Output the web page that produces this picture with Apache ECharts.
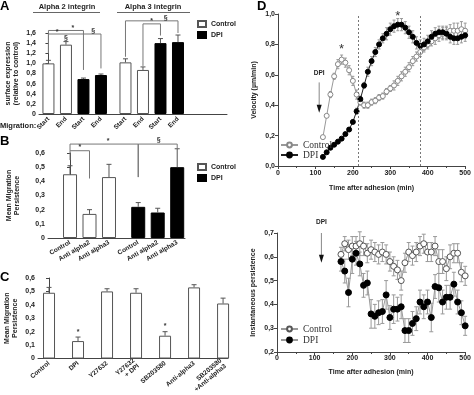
<!DOCTYPE html>
<html><head><meta charset="utf-8">
<script src="https://cdn.jsdelivr.net/npm/echarts@6/dist/echarts.min.js"></script>
<style>html,body{margin:0;padding:0;background:#fff}#c{width:474px;height:395px}</style>
</head><body><div id="c"></div>
<script>
// ---------- Panel A ----------
const aLabels = ['Start','End','Start','End','Start','End','Start','End'];
const aControl = [1.00, 1.37, null, null, 1.02, 0.87, null, null];
const aDPI     = [null, null, 0.69, 0.77, null, null, 1.40, 1.42];
const aErrors  = [0.06, 0.06, 0.02, 0.02, 0.07, 0.06, 0.09, 0.14];
// ---------- Panel B ----------
const bLabels = ['Control','Anti alpha2','Anti alpha3','Control','Anti alpha2','Anti alpha3'];
const bControl = [0.45, 0.17, 0.43, null, null, null];
const bDPI     = [null, null, null, 0.22, 0.18, 0.50];
const bErrors  = [0.06, 0.03, 0.09, 0.03, 0.03, 0.13];
// ---------- Panel C ----------
const cLabels = ['Control','DPI','Y27632','Y27632\n+ DPI','SB203580','Anti-alpha3','SB203580\n+Anti-alpha3'];
const cValues = [0.49, 0.13, 0.50, 0.49, 0.17, 0.53, 0.41];
const cErrors = [0.04, 0.03, 0.02, 0.03, 0.03, 0.02, 0.04];
// ---------- Panel D (velocity) ----------
const vTime = [120,130,140,150,160,170,180,190,200,210,220,230,240,250,260,270,280,290,300,310,320,330,340,350,360,370,380,390,400,410,420,430,440,450,460,470,480,490,500];
const vControl = [0.19,0.33,0.47,0.59,0.67,0.70,0.68,0.63,0.56,0.47,0.42,0.40,0.40,0.42,0.43,0.45,0.46,0.49,0.51,0.53,0.56,0.59,0.62,0.65,0.69,0.72,0.75,0.78,0.80,0.82,0.84,0.86,0.87,0.88,0.89,0.89,0.89,0.90,0.89];
const vControlErr = [0.01,0.01,0.02,0.02,0.03,0.03,0.03,0.03,0.03,0.03,0.02,0.02,0.02,0.02,0.02,0.02,0.02,0.02,0.02,0.03,0.03,0.03,0.03,0.03,0.03,0.03,0.03,0.03,0.03,0.03,0.04,0.04,0.04,0.04,0.04,0.05,0.05,0.05,0.05];
const vDPI = [0.06,0.09,0.12,0.14,0.16,0.18,0.21,0.24,0.29,0.36,0.44,0.53,0.62,0.69,0.75,0.80,0.84,0.87,0.90,0.92,0.93,0.93,0.91,0.88,0.85,0.81,0.79,0.80,0.82,0.85,0.87,0.88,0.88,0.87,0.85,0.84,0.84,0.85,0.86];
const vDPIErr = [0.01,0.01,0.01,0.01,0.01,0.01,0.01,0.01,0.01,0.02,0.02,0.02,0.03,0.03,0.03,0.03,0.03,0.04,0.04,0.04,0.04,0.04,0.04,0.04,0.04,0.04,0.04,0.04,0.04,0.04,0.04,0.04,0.04,0.04,0.04,0.04,0.04,0.04,0.04];
// ---------- Panel D (persistence) ----------
const pTime = [170,180,190,200,210,220,230,240,250,260,270,280,290,300,310,320,330,340,350,360,370,380,390,400,410,420,430,440,450,460,470,480,490,500];
const pControl = [0.61,0.655,0.63,0.645,0.645,0.655,0.645,0.615,0.63,0.62,0.61,0.62,0.61,0.58,0.56,0.545,0.50,0.575,0.62,0.605,0.62,0.645,0.655,0.62,0.62,0.645,0.58,0.58,0.55,0.60,0.615,0.615,0.535,0.52];
const pControlErr = [0.03,0.03,0.04,0.04,0.04,0.05,0.04,0.04,0.04,0.04,0.04,0.04,0.04,0.04,0.04,0.04,0.04,0.04,0.04,0.04,0.04,0.04,0.04,0.04,0.04,0.04,0.05,0.05,0.05,0.05,0.04,0.04,0.04,0.04];
const pDPI = [0.58,0.54,0.45,0.59,0.615,0.57,0.48,0.49,0.36,0.35,0.365,0.37,0.44,0.345,0.38,0.38,0.39,0.29,0.29,0.32,0.34,0.41,0.39,0.41,0.345,0.475,0.47,0.41,0.43,0.43,0.485,0.41,0.365,0.31];
const pDPIErr = [0.04,0.05,0.06,0.06,0.05,0.05,0.05,0.05,0.06,0.05,0.05,0.05,0.06,0.05,0.06,0.05,0.05,0.05,0.05,0.05,0.05,0.05,0.05,0.05,0.06,0.05,0.06,0.05,0.05,0.05,0.05,0.05,0.05,0.04];

// ---------- layout helpers ----------
const SANS = 'Liberation Sans, Arial, sans-serif';
const SERIF = 'Liberation Serif, Times New Roman, serif';
const posA = i => i + (i >= 4 ? 0.4 : 0);
const posB = i => i + (i >= 3 ? 0.5 : 0);
const posC = i => i;
const fmt = (dec, plainZero) => v => (plainZero && Math.abs(v) < 1e-9) ? '0' : v.toFixed(dec).replace('.', ',');
const tickFont = {fontFamily: SANS, fontSize: 7, fontWeight: 'bold', color: '#222'};
const axisLine = {show: true, lineStyle: {color: '#444', width: 1}};

function barXAxis(grid, labels, posFn, min, max, rotate) {
  const vals = labels.map((_, i) => posFn(i));
  return {gridIndex: grid, type: 'value', min, max, axisLine, axisTick: {show: false}, splitLine: {show: false},
    axisLabel: {customValues: vals, rotate, margin: 4, ...tickFont, fontSize: 6.5, lineHeight: 7,
      formatter: v => { const k = vals.findIndex(p => Math.abs(p - v) < 1e-6); return k < 0 ? '' : labels[k]; }}};
}
function yAx(grid, min, max, interval, formatter, name, nameGap) {
  return {gridIndex: grid, type: 'value', min, max, interval, axisLine, splitLine: {show: false},
    axisTick: {show: true, length: 3, lineStyle: {color: '#444'}},
    axisLabel: {...tickFont, margin: 3, formatter},
    name, nameLocation: 'middle', nameGap,
    nameTextStyle: {fontFamily: SANS, fontSize: 7, fontWeight: 'bold', color: '#222', lineHeight: 8}};
}
function barSeries(name, xi, vals, posFn, style, extra) {
  return Object.assign({type: 'bar', name, xAxisIndex: xi, yAxisIndex: xi, barWidth: 12,
    data: vals.map((v, i) => v == null ? null : [posFn(i), v]).filter(d => d), itemStyle: style, z: 2}, extra || {});
}
function errSeries(xi, data, color, both, capW) {
  return {type: 'custom', xAxisIndex: xi, yAxisIndex: xi, silent: true, z: both ? 1 : 3, clip: false,
    encode: {x: 0, y: 1}, data,
    renderItem: (p, api) => {
      const x = api.value(0), v = api.value(1), e = api.value(2);
      const t = api.coord([x, v + e]); const b = both ? api.coord([x, v - e]) : api.coord([x, v]);
      const c = capW / 2, st = {stroke: color, lineWidth: 1};
      const ch = [{type: 'line', shape: {x1: t[0], y1: t[1], x2: b[0], y2: b[1]}, style: st},
                  {type: 'line', shape: {x1: t[0] - c, y1: t[1], x2: t[0] + c, y2: t[1]}, style: st}];
      if (both) ch.push({type: 'line', shape: {x1: b[0] - c, y1: b[1], x2: b[0] + c, y2: b[1]}, style: st});
      return {type: 'group', children: ch};
    }};
}
function bracketSeries(xi, list, posFn) {
  return {type: 'custom', xAxisIndex: xi, yAxisIndex: xi, silent: true, clip: false, z: 3,
    encode: {x: 0, y: 1}, data: list.map(b => [posFn(b.from), b.e1]),
    renderItem: (p, api) => {
      const b = list[p.dataIndex], x1 = posFn(b.from), x2 = posFn(b.to);
      const pts = [api.coord([x1, b.e1]), api.coord([x1, b.top]), api.coord([x2, b.top]), api.coord([x2, b.e2])];
      return {type: 'polyline', shape: {points: pts}, style: {stroke: '#777', lineWidth: 1, fill: null}};
    }};
}
function markSeries(xi, list, size, weight) {
  return {type: 'custom', xAxisIndex: xi, yAxisIndex: xi, silent: true, clip: false, z: 4,
    encode: {x: 0, y: 1}, data: list.map(m => [m.x, m.y]),
    renderItem: (p, api) => {
      const m = list[p.dataIndex], c = api.coord([m.x, m.y]);
      return {type: 'text', x: c[0], y: c[1], style: {text: m.t, fontFamily: SANS, fontSize: size, fontWeight: weight,
        fill: '#333', align: 'center', verticalAlign: 'middle'}};
    }};
}
function arrowSeries(xi, a) {
  return {type: 'custom', xAxisIndex: xi, yAxisIndex: xi, silent: true, clip: false, z: 4,
    encode: {x: 0, y: 1}, data: [[a.x, a.top]],
    renderItem: (p, api) => {
      const t = api.coord([a.x, a.top]), b = api.coord([a.x, a.bottom]), l = api.coord([a.x, a.label]);
      return {type: 'group', children: [
        {type: 'line', shape: {x1: t[0], y1: t[1], x2: b[0], y2: b[1] - 7}, style: {stroke: '#888', lineWidth: 1}},
        {type: 'polygon', shape: {points: [[b[0] - 2.5, b[1] - 8], [b[0] + 2.5, b[1] - 8], [b[0], b[1]]]}, style: {fill: '#111'}},
        {type: 'text', x: l[0], y: l[1], style: {text: 'DPI', fontFamily: SANS, fontSize: 6.5, fontWeight: 'bold', fill: '#222', align: 'center', verticalAlign: 'middle'}}
      ]};
    }};
}

// annotations (data coordinates)
const aBrackets = [
  {from: 0, to: 2, top: 1.65, e1: 1.20, e2: 0.87},
  {from: 0, to: 3, top: 1.58, e1: 1.20, e2: 0.90},
  {from: 4, to: 7, top: 1.84, e1: 1.13, e2: 1.60},
  {from: 5, to: 6, top: 1.78, e1: 0.95, e2: 1.55}
];
const aMarks = [
  {x: 1.4, y: 1.69, t: '*'}, {x: 0.5, y: 1.62, t: '*'}, {x: 2.55, y: 1.63, t: '§'},
  {x: 1.0, y: 1.50, t: '§'}, {x: 6.7, y: 1.90, t: '§'}, {x: 5.9, y: 1.83, t: '*'}
];
const bBrackets = [
  {from: 0, to: 3, top: 0.663, e1: 0.616, e2: 0.43},
  {from: 0, to: 1, top: 0.616, e1: 0.55, e2: 0.42},
  {from: 3, to: 5, top: 0.663, e1: 0.43, e2: 0.635}
];
const bMarks = [{x: 1.95, y: 0.685, t: '*'}, {x: 0.5, y: 0.64, t: '*'}, {x: 4.55, y: 0.69, t: '§'}];
const cMarks = [{x: 1, y: 0.195, t: '*'}, {x: 4, y: 0.24, t: '*'}];
const dMarks = [{x: 170, y: 0.77, t: '*'}, {x: 320, y: 0.985, t: '*'}];

const whiteBar = {color: '#fff', borderColor: '#555', borderWidth: 1};
const blackBar = {color: '#000', borderColor: '#000', borderWidth: 1};

const chart = echarts.init(document.getElementById('c'), null, {renderer: 'canvas'});
chart.setOption({
  animation: false,
  backgroundColor: '#fff',
  grid: [
    {left: 39, top: 33, width: 188, height: 81},
    {left: 48, top: 153, width: 137, height: 85},
    {left: 38, top: 278, width: 190, height: 90},
    {left: 278, top: 14, width: 192, height: 152},
    {left: 277, top: 233, width: 190, height: 119}
  ],
  xAxis: [
    barXAxis(0, aLabels, posA, -0.54, 10.2, 45),
    barXAxis(1, bLabels, posB, -1.13, 5.9, 30),
    barXAxis(2, cLabels, posC, -0.38, 6.17, 40),
    {gridIndex: 3, type: 'value', min: 0, max: 500, interval: 100, axisLine, splitLine: {show: false},
      axisTick: {show: true, length: 3, lineStyle: {color: '#444'}}, minorTick: {show: true, splitNumber: 2, length: 2, lineStyle: {color: '#444'}},
      axisLabel: {...tickFont, margin: 4}, name: 'Time after adhesion (min)', nameLocation: 'middle', nameGap: 19,
      nameTextStyle: {fontFamily: SANS, fontSize: 7, fontWeight: 'bold', color: '#222'}},
    {gridIndex: 4, type: 'value', min: 0, max: 500, interval: 100, axisLine, splitLine: {show: false},
      axisTick: {show: true, length: 3, lineStyle: {color: '#444'}}, minorTick: {show: true, splitNumber: 2, length: 2, lineStyle: {color: '#444'}},
      axisLabel: {...tickFont, margin: 3}, name: 'Time after adhesion (min)', nameLocation: 'middle', nameGap: 17,
      nameTextStyle: {fontFamily: SANS, fontSize: 7, fontWeight: 'bold', color: '#222'}}
  ],
  yAxis: [
    yAx(0, 0, 1.6, 0.2, fmt(1, true), 'surface expression\n(relative to control)', 19),
    yAx(1, 0, 0.6, 0.1, fmt(1, true), 'Mean Migration\nPersistence', 27),
    yAx(2, 0, 0.6, 0.1, fmt(1, true), 'Mean Migration\nPersistence', 19),
    yAx(3, 0, 1.0, 0.2, fmt(1, false), 'Velocity (µm/min)', 20),
    yAx(4, 0.2, 0.7, 0.1, fmt(1, false), 'Instantaneous persistence', 20)
  ],
  legend: [
    {left: 192, top: 15, orient: 'vertical', itemWidth: 8, itemHeight: 6, itemGap: 3, icon: 'rect', selectedMode: false,
      data: ['Control', 'DPI'], textStyle: {fontFamily: SANS, fontSize: 7, fontWeight: 'bold', color: '#222'}},
    {left: 192, top: 158, orient: 'vertical', itemWidth: 8, itemHeight: 6, itemGap: 3, icon: 'rect', selectedMode: false,
      data: ['Control', 'DPI'], textStyle: {fontFamily: SANS, fontSize: 7, fontWeight: 'bold', color: '#222'}},
    {left: 275, top: 135, orient: 'vertical', itemWidth: 17, itemHeight: 6, itemGap: 0, selectedMode: false,
      data: ['Control|v', 'DPI|v'], formatter: n => n.split('|')[0], textStyle: {fontFamily: SERIF, fontSize: 9.5, color: '#333'}},
    {left: 275, top: 319, orient: 'vertical', itemWidth: 17, itemHeight: 6, itemGap: 1, selectedMode: false,
      data: ['Control|p', 'DPI|p'], formatter: n => n.split('|')[0], textStyle: {fontFamily: SERIF, fontSize: 9.5, color: '#333'}}
  ],
  graphic: [
    {type: 'text', left: 0, top: 0, style: {text: 'A', font: 'bold 13px ' + SANS, fill: '#000'}},
    {type: 'text', left: 0, top: 135, style: {text: 'B', font: 'bold 13px ' + SANS, fill: '#000'}},
    {type: 'text', left: 0, top: 271, style: {text: 'C', font: 'bold 13px ' + SANS, fill: '#000'}},
    {type: 'text', left: 257, top: 0, style: {text: 'D', font: 'bold 13px ' + SANS, fill: '#000'}},
    {type: 'text', x: 67, y: 7, style: {text: 'Alpha 2 integrin', font: 'bold 7.5px ' + SANS, fill: '#222', align: 'center', verticalAlign: 'middle'}},
    {type: 'text', x: 153, y: 7, style: {text: 'Alpha 3 integrin', font: 'bold 7.5px ' + SANS, fill: '#222', align: 'center', verticalAlign: 'middle'}},
    {type: 'line', shape: {x1: 33, y1: 12.5, x2: 100, y2: 12.5}, style: {stroke: '#666', lineWidth: 1}},
    {type: 'line', shape: {x1: 117, y1: 12.5, x2: 190, y2: 12.5}, style: {stroke: '#666', lineWidth: 1}},
    {type: 'text', x: 0, y: 126, style: {text: 'Migration:', font: 'bold 7.5px ' + SANS, fill: '#222', verticalAlign: 'middle'}}
  ],
  series: [
    barSeries('Control', 0, aControl, posA, whiteBar),
    barSeries('DPI', 0, aDPI, posA, blackBar, {barGap: '-100%'}),
    errSeries(0, aErrors.map((e, i) => [posA(i), aControl[i] != null ? aControl[i] : aDPI[i], e]), '#555', false, 5),
    bracketSeries(0, aBrackets, posA),
    markSeries(0, aMarks, 7, 'bold'),

    barSeries('Control', 1, bControl, posB, whiteBar, {barWidth: 14}),
    barSeries('DPI', 1, bDPI, posB, blackBar, {barWidth: 14, barGap: '-100%'}),
    errSeries(1, bErrors.map((e, i) => [posB(i), bControl[i] != null ? bControl[i] : bDPI[i], e]), '#555', false, 5),
    bracketSeries(1, bBrackets, posB),
    markSeries(1, bMarks, 7, 'bold'),

    barSeries('C', 2, cValues, posC, whiteBar),
    errSeries(2, cErrors.map((e, i) => [posC(i), cValues[i], e]), '#555', false, 5),
    markSeries(2, cMarks, 7, 'bold'),

    {type: 'line', name: 'Control|v', xAxisIndex: 3, yAxisIndex: 3, z: 3, symbol: 'circle', symbolSize: 5,
      data: vTime.map((t, i) => [t, vControl[i]]), lineStyle: {color: '#999', width: 1},
      itemStyle: {color: '#fff', borderColor: '#888', borderWidth: 1}},
    {type: 'line', name: 'DPI|v', xAxisIndex: 3, yAxisIndex: 3, z: 3, symbol: 'circle', symbolSize: 5,
      data: vTime.map((t, i) => [t, vDPI[i]]), lineStyle: {color: '#222', width: 1},
      itemStyle: {color: '#000', borderColor: '#000', borderWidth: 1},
      markLine: {silent: true, symbol: ['none', 'none'], label: {show: false},
        lineStyle: {type: [2, 2], color: '#777', width: 1}, data: [{xAxis: 215}, {xAxis: 380}]}},
    errSeries(3, vTime.map((t, i) => [t, vControl[i], vControlErr[i]]), '#999', true, 3),
    errSeries(3, vTime.map((t, i) => [t, vDPI[i], vDPIErr[i]]), '#999', true, 3),
    markSeries(3, dMarks, 13, 'normal'),
    arrowSeries(3, {x: 110, top: 0.55, bottom: 0.35, label: 0.61}),

    {type: 'line', name: 'Control|p', xAxisIndex: 4, yAxisIndex: 4, z: 3, symbol: 'circle', symbolSize: 6,
      data: pTime.map((t, i) => [t, pControl[i]]), lineStyle: {color: '#999', width: 1},
      itemStyle: {color: '#fff', borderColor: '#555', borderWidth: 1}},
    {type: 'line', name: 'DPI|p', xAxisIndex: 4, yAxisIndex: 4, z: 3, symbol: 'circle', symbolSize: 6,
      data: pTime.map((t, i) => [t, pDPI[i]]), lineStyle: {color: '#999', width: 1},
      itemStyle: {color: '#000', borderColor: '#000', borderWidth: 1}},
    errSeries(4, pTime.map((t, i) => [t, pControl[i], pControlErr[i]]), '#999', true, 4),
    errSeries(4, pTime.map((t, i) => [t, pDPI[i], pDPIErr[i]]), '#999', true, 4),
    arrowSeries(4, {x: 118, top: 0.70, bottom: 0.575, label: 0.745})
  ]
});
</script></body></html>
